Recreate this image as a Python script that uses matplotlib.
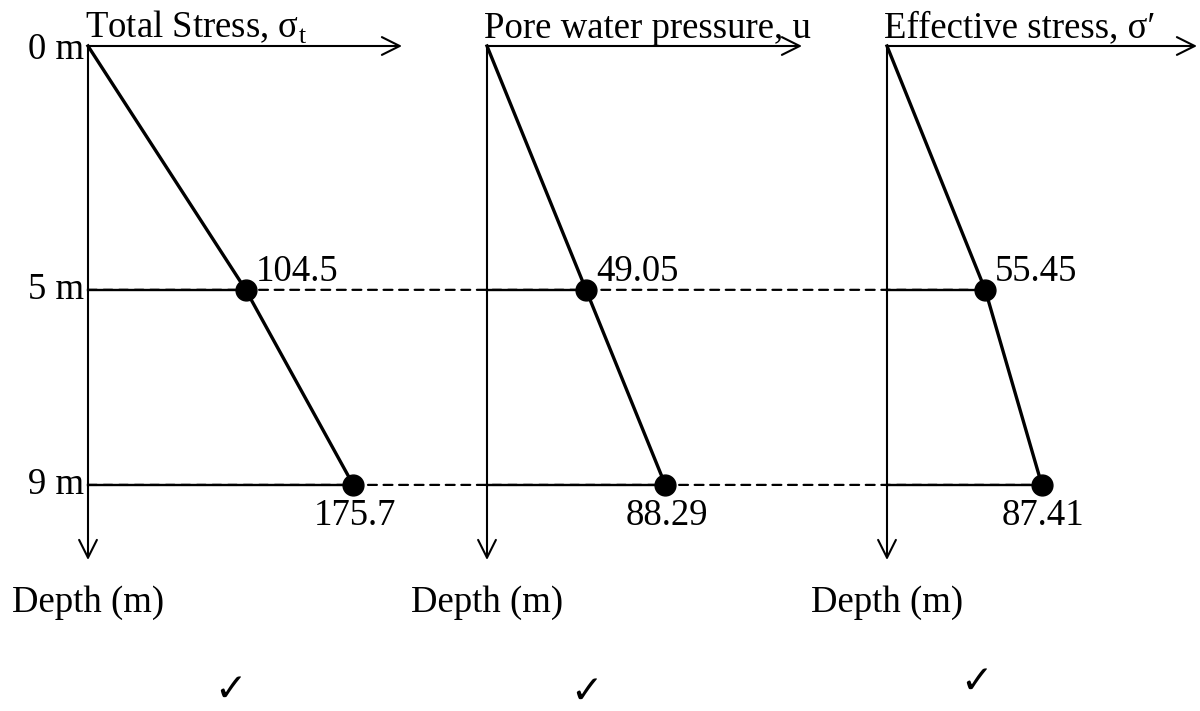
import matplotlib.pyplot as plt
from matplotlib.patches import ConnectionPatch

plt.rcParams['font.family'] = ['Liberation Serif', 'DejaVu Serif']
plt.rcParams['mathtext.fontset'] = 'custom'
plt.rcParams['mathtext.rm'] = 'Liberation Serif'

# depths of the layer boundaries (m)
depths = [0, 5, 9]
depth_labels = ['0 m', '5 m', '9 m']

titles = ['Total Stress, σ$_\\mathrm{t}$', 'Pore water pressure, u', 'Effective stress, σ′']
total_stress = [0, 104.5, 175.7]
pore_pressure = [0, 49.05, 88.29]
effective_stress = [0, 55.45, 87.41]
value_labels = [['', '104.5', '175.7'], ['', '49.05', '88.29'], ['', '55.45', '87.41']]

W, H = 1200, 711
FS = 26.5

fig = plt.figure(figsize=(W / 100, H / 100), dpi=100)

# panel layout in pixels: origin x, arrow tip x, and x-axis max in stress units
panels = [(88, 402, 208), (487, 802, 156), (887, 1197, 175)]
y_top, y_bot, d_max = 46, 560, 10.54

axes = []
for (x0, x1, xmax), title, vals, labs in zip(
        panels, titles, [total_stress, pore_pressure, effective_stress], value_labels):
    ax = fig.add_axes([x0 / W, 1 - y_bot / H, (x1 - x0) / W, (y_bot - y_top) / H])
    ax.set_xlim(0, xmax)
    ax.set_ylim(d_max, 0)
    ax.axis('off')

    # axes as arrows
    ax.annotate('', xy=(xmax, 0), xytext=(0, 0), annotation_clip=False,
                arrowprops=dict(arrowstyle='->', lw=1.5, color='black',
                                mutation_scale=32, shrinkA=0, shrinkB=0))
    ax.annotate('', xy=(0, d_max), xytext=(0, 0), annotation_clip=False,
                arrowprops=dict(arrowstyle='->', lw=1.5, color='black',
                                mutation_scale=32, shrinkA=0, shrinkB=0))

    # horizontal ties to each point
    for v, d in zip(vals[1:], depths[1:]):
        ax.plot([0, v], [d, d], color='black', lw=1.7, clip_on=False)

    ax.plot(vals, depths, color='black', lw=2.4, clip_on=False, zorder=3)
    ax.plot(vals[1:], depths[1:], 'o', color='black', ms=15, clip_on=False, zorder=4)

    ax.annotate(labs[1], xy=(vals[1], depths[1]), xytext=(7, 13),
                textcoords='offset points', ha='left', va='center', fontsize=FS)
    ax.annotate(labs[2], xy=(vals[2], depths[2]), xytext=(1, -10),
                textcoords='offset points', ha='center', va='top', fontsize=FS)

    ax.annotate(title, xy=(0, 0), xytext=(-2, 6), textcoords='offset points',
                ha='left', va='baseline', fontsize=FS)
    ax.annotate('Depth (m)', xy=(0, d_max), xytext=(0, -18), textcoords='offset points',
                ha='center', va='top', fontsize=FS)
    axes.append(ax)

# depth tick labels on the first panel
for d, lab in zip(depths, depth_labels):
    dy = -3 if d == 0 else 0
    axes[0].annotate(lab, xy=(0, d), xytext=(-3, dy), textcoords='offset points',
                     ha='right', va='center', fontsize=FS)

# dashed lines linking the layer boundaries across panels
for i, d in enumerate(depths[1:], start=1):
    con = ConnectionPatch(xyA=(0, d), coordsA=axes[0].transData,
                          xyB=(effective_stress[i], d), coordsB=axes[2].transData,
                          linestyle=(0, (4, 3)), lw=1.6, color='black', zorder=2)
    fig.add_artist(con)

# check marks under each panel
for x, y in [(230, 690), (586, 692), (976, 682)]:
    fig.text(x / W, 1 - y / H, '✓', fontsize=28, family='DejaVu Sans',
             ha='center', va='center', fontweight='bold')

fig.savefig('out.png', dpi=100)
